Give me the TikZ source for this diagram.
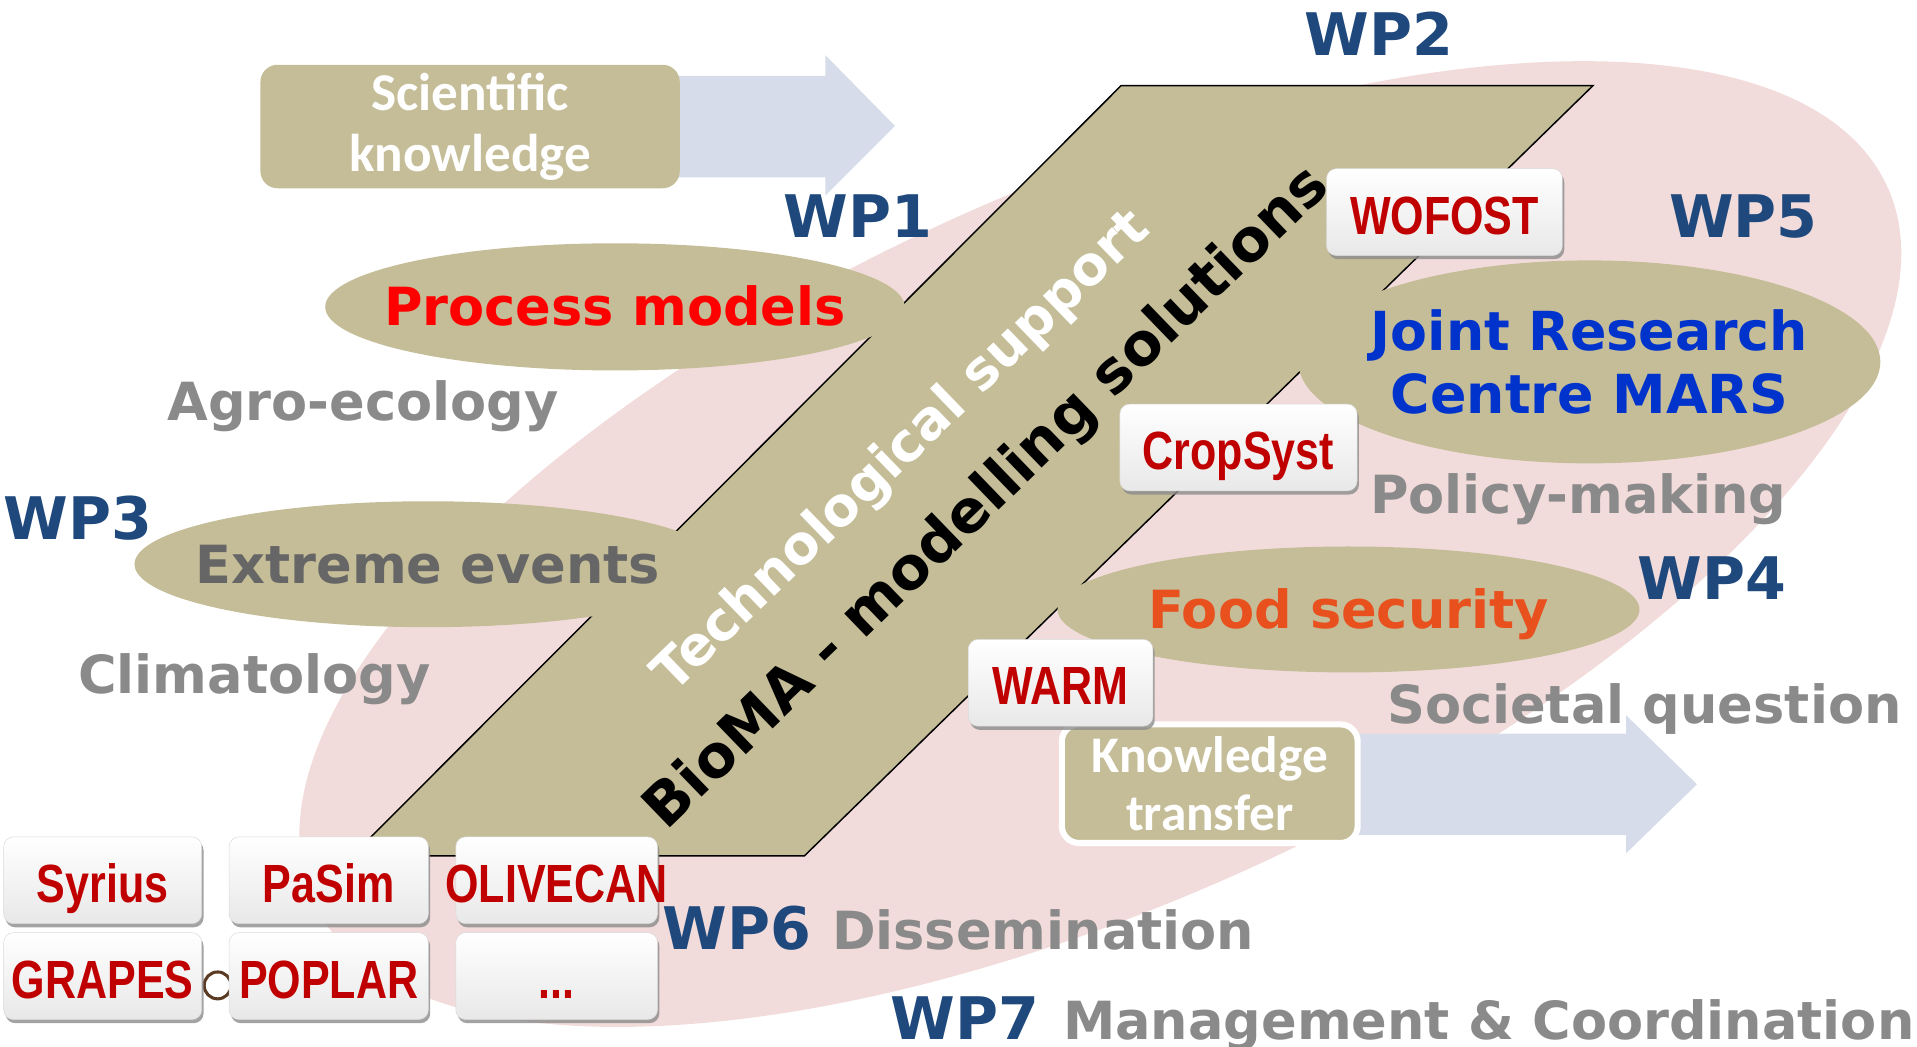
\documentclass[tikz,border=0pt]{standalone}
\usepackage{fontspec}
\usepackage{xcolor}
\usepackage{tikz}
\usetikzlibrary{positioning,calc,shapes.geometric,shadows}
\newfontfamily\vfont{DejaVu Sans}
\newfontfamily\cfont{Carlito}
\newfontfamily\nfont[FakeStretch=0.8]{Liberation Sans}
\newcommand\zw[1]{\makebox[0pt]{#1}}
\definecolor{pinkbg}{HTML}{F2DCDB}
\definecolor{bgtan}{HTML}{C4BD97}
\definecolor{arrowblue}{HTML}{D6DCEA}
\definecolor{wpblue}{HTML}{1F497D}
\definecolor{labgray}{HTML}{8A8A8A}
\definecolor{evgray}{HTML}{666666}
\definecolor{jrcblue}{HTML}{0033CC}
\definecolor{foodorange}{HTML}{E8501E}
\definecolor{modelred}{HTML}{C00000}
\definecolor{ringbrown}{HTML}{5A3A22}

\begin{document}
\begin{tikzpicture}[x=1pt, y=-1pt,
		wp/.style={anchor=base, text=wpblue, font=\vfont\bfseries\fontsize{48}{48}\selectfont},
		topic/.style={anchor=base, text=labgray, font=\vfont\bfseries\fontsize{43}{43}\selectfont},
		blob/.style={ellipse, fill=bgtan, inner sep=0pt, font=\vfont\bfseries\fontsize{43}{51}\selectfont},
		oneline/.style={text height=31pt, text depth=0pt},
		model/.style={rectangle, rounded corners=8pt, top color=white, middle color=white, bottom color=black!9, draw=black!15, inner sep=0pt, minimum height=71pt, text height=36pt, text depth=0pt, text=modelred, font=\nfont\bfseries\fontsize{44}{44}\selectfont, drop shadow={shadow xshift=1.5pt, shadow yshift=-3pt, fill=black!45, opacity=0.8}},
		flow/.style={rectangle, rounded corners=14pt, fill=bgtan, inner sep=0pt, align=center, text=white},
		flowarrow/.style={fill=arrowblue}]
	\useasboundingbox (0,0) rectangle (1568,856);
	\fill[pinkbg, rotate around={24.4:(900,445)}] (900,445) ellipse [x radius=707pt, y radius=292pt];
	\fill[flowarrow] (550,62) -- (675,62) -- (675,45) -- (732,103) -- (675,160) -- (675,145) -- (550,145) -- cycle;
	\fill[flowarrow] (1105,600) -- (1330,600) -- (1330,585) -- (1388,641.5) -- (1330,698) -- (1330,683) -- (1105,683) -- cycle;
	\draw[fill=bgtan, line width=1.2pt] (288,700) -- (658,700) -- (1303,70) -- (917,70) -- cycle;

	\node[blob, oneline, minimum width=474pt, minimum height=104pt, text=red] (proc) at (503,251) {\zw{Process models}};
	\node[blob, oneline, minimum width=480pt, minimum height=103pt, text=evgray] (extr) at (350,461.5) {\zw{Extreme events}};
	\node[blob, minimum width=476pt, minimum height=166pt, text=jrcblue, align=center, font=\vfont\bfseries\fontsize{44}{51}\selectfont] (jrc) at (1300,296) {\zw{Joint Research}\\\zw{Centre MARS}};
	\node[blob, oneline, minimum width=476pt, minimum height=103pt, text=foodorange] (food) at (1103,498.5) {\zw{Food security}};

	\node[rotate=44, text=white, font=\vfont\bfseries\fontsize{44}{44}\selectfont] (tech) at (738,370) {Technological support};
	\node[rotate=44, font=\vfont\bfseries\fontsize{48}{48}\selectfont] (bioma) at (808,408) {BioMA - modelling solutions};

	\node[wp] (wp1) at (702,194) {WP1};
	\node[wp] (wp2) at (1128,45) {WP2};
	\node[wp] (wp3) at (64,441) {WP3};
	\node[wp] (wp4) at (1400,490) {WP4};
	\node[wp] (wp5) at (1426,194) {WP5};
	\node[wp] (wp6) at (603,777) {WP6};
	\node[wp] (wp7) at (789,850) {WP7};

	\node[topic] (agro) at (297,344) {Agro-ecology};
	\node[topic] (clim) at (208,567) {Climatology};
	\node[topic] (policy) at (1291,420) {Policy-making};
	\node[topic] (societal) at (1345,592) {Societal question};
	\node[topic, anchor=base west] (dissem) at (677,777) {Dissemination};
	\node[topic, anchor=base west] (manag) at (866,850) {Management \& Coordination};

	\node[flow, minimum width=343pt, minimum height=101pt, font=\cfont\bfseries\fontsize{43.5}{50}\selectfont] (sci) at (384.5,103.5) {Scientific\\knowledge};
	\node[flow, draw=white, line width=5pt, minimum width=242pt, minimum height=97pt, font=\cfont\bfseries\fontsize{42}{47}\selectfont] (ktrans) at (989.5,641) {Knowledge\\transfer};

	\draw[ringbrown, line width=2.5pt] (178,806) circle [radius=11pt];

	\node[model, minimum width=193pt] (wofost) at (1181.5,173.5) {WOFOST};
	\node[model, minimum width=194pt] (cropsyst) at (1013,366) {CropSyst};
	\node[model, minimum width=151pt] (warm) at (867.5,558.5) {WARM};
	\node[model, minimum width=162pt] (syrius) at (84,720) {Syrius};
	\node[model, minimum width=163pt, right=22pt of syrius] (pasim) {PaSim};
	\node[model, minimum width=165pt, right=22pt of pasim] (olivecan) {\zw{OLIVECAN}};
	\node[model, minimum width=162pt, below=7pt of syrius] (grapes) {GRAPES};
	\node[model, minimum width=163pt, right=22pt of grapes] (poplar) {POPLAR};
	\node[model, minimum width=165pt, right=22pt of poplar] (more) {...};
\end{tikzpicture}
\end{document}
